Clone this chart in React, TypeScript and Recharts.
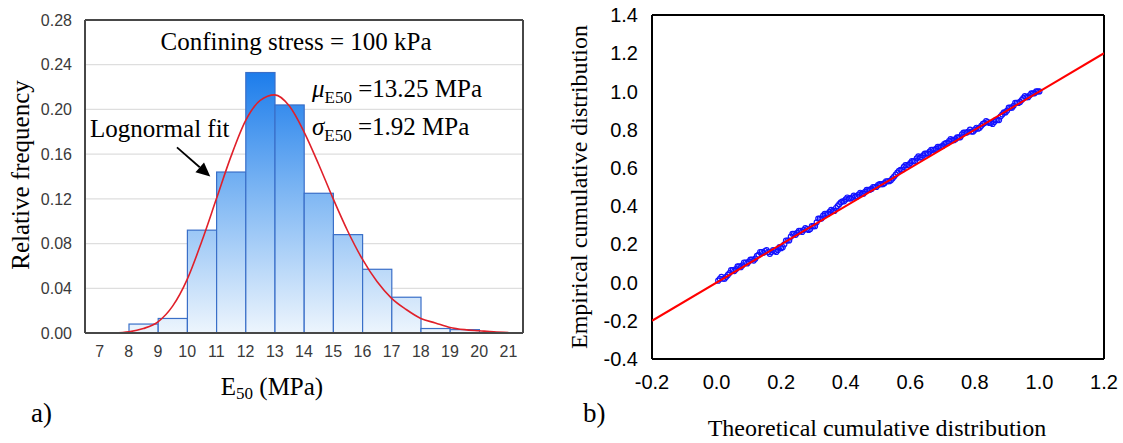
import React from 'react';
import { ComposedChart, Bar, Line, Scatter, XAxis, YAxis, CartesianGrid, ReferenceLine } from 'recharts';

// ---------- Panel a) histogram ----------
const binCenters = [8.5, 9.5, 10.5, 11.5, 12.5, 13.5, 14.5, 15.5, 16.5, 17.5, 18.5, 19.5];
const binFreq = [0.008, 0.013, 0.092, 0.144, 0.233, 0.204, 0.125, 0.088, 0.057, 0.032, 0.004, 0.003];
const fitX = [7.5, 8, 8.5, 9, 9.5, 10, 10.5, 11, 11.5, 12, 12.5, 13, 13.5, 14, 14.5, 15, 15.5, 16, 16.5, 17, 17.5, 18, 18.5, 19, 19.5, 20, 20.5, 21];
const fitY = [0, 0.001, 0.004, 0.01, 0.024, 0.048, 0.082, 0.12, 0.158, 0.19, 0.208, 0.213, 0.203, 0.18, 0.151, 0.12, 0.091, 0.066, 0.046, 0.031, 0.021, 0.013, 0.009, 0.005, 0.003, 0.002, 0.001, 0.0005];
const xTicksA = [7, 8, 9, 10, 11, 12, 13, 14, 15, 16, 17, 18, 19, 20, 21];
const yTicksA = [0, 0.04, 0.08, 0.12, 0.16, 0.2, 0.24, 0.28];
const arrowTail = { x: 9.65, y: 0.166 };
const arrowTip = { x: 10.79, y: 0.14 };

// ---------- Panel b) P-P plot ----------
const theoX = [
  0.01, 0.02, 0.03, 0.04, 0.05, 0.06, 0.07, 0.08, 0.09, 0.1,
  0.11, 0.12, 0.13, 0.14, 0.15, 0.16, 0.17, 0.18, 0.19, 0.2,
  0.21, 0.22, 0.23, 0.24, 0.25, 0.26, 0.27, 0.28, 0.29, 0.3,
  0.31, 0.32, 0.33, 0.34, 0.35, 0.36, 0.37, 0.38, 0.39, 0.4,
  0.41, 0.42, 0.43, 0.44, 0.45, 0.46, 0.47, 0.48, 0.49, 0.5,
  0.51, 0.52, 0.53, 0.54, 0.55, 0.56, 0.57, 0.58, 0.59, 0.6,
  0.61, 0.62, 0.63, 0.64, 0.65, 0.66, 0.67, 0.68, 0.69, 0.7,
  0.71, 0.72, 0.73, 0.74, 0.75, 0.76, 0.77, 0.78, 0.79, 0.8,
  0.81, 0.82, 0.83, 0.84, 0.85, 0.86, 0.87, 0.88, 0.89, 0.9,
  0.91, 0.92, 0.93, 0.94, 0.95, 0.96, 0.97, 0.98, 0.99, 1.0,
];
const empY = [
  0.02, 0.02, 0.03, 0.05, 0.065, 0.07, 0.085, 0.09, 0.105, 0.11,
  0.12, 0.125, 0.145, 0.16, 0.165, 0.16, 0.16, 0.165, 0.17, 0.18,
  0.2, 0.22, 0.24, 0.255, 0.26, 0.27, 0.275, 0.28, 0.28, 0.295,
  0.315, 0.335, 0.35, 0.36, 0.37, 0.375, 0.39, 0.41, 0.425, 0.435,
  0.44, 0.445, 0.45, 0.46, 0.465, 0.475, 0.485, 0.49, 0.5, 0.51,
  0.515, 0.52, 0.53, 0.535, 0.555, 0.575, 0.59, 0.605, 0.615, 0.625,
  0.635, 0.65, 0.655, 0.665, 0.675, 0.685, 0.695, 0.7, 0.71, 0.715,
  0.73, 0.74, 0.745, 0.75, 0.76, 0.775, 0.785, 0.79, 0.79, 0.8,
  0.805, 0.82, 0.835, 0.84, 0.835, 0.84, 0.85, 0.87, 0.89, 0.9,
  0.915, 0.925, 0.94, 0.945, 0.965, 0.97, 0.98, 0.99, 1.0, 1.0,
];
const theoX2 = [
  0.005, 0.015, 0.025, 0.035, 0.045, 0.055, 0.065, 0.075, 0.085, 0.095,
  0.105, 0.115, 0.125, 0.135, 0.145, 0.155, 0.165, 0.175, 0.185, 0.195,
  0.205, 0.215, 0.225, 0.235, 0.245, 0.255, 0.265, 0.275, 0.285, 0.295,
  0.305, 0.315, 0.325, 0.335, 0.345, 0.355, 0.365, 0.375, 0.385, 0.395,
  0.405, 0.415, 0.425, 0.435, 0.445, 0.455, 0.465, 0.475, 0.485, 0.495,
  0.505, 0.515, 0.525, 0.535, 0.545, 0.555, 0.565, 0.575, 0.585, 0.595,
  0.605, 0.615, 0.625, 0.635, 0.645, 0.655, 0.665, 0.675, 0.685, 0.695,
  0.705, 0.715, 0.725, 0.735, 0.745, 0.755, 0.765, 0.775, 0.785, 0.795,
  0.805, 0.815, 0.825, 0.835, 0.845, 0.855, 0.865, 0.875, 0.885, 0.895,
  0.905, 0.915, 0.925, 0.935, 0.945, 0.955, 0.965, 0.975, 0.985, 0.995,
];
const empY2 = [
  0.01, 0.03, 0.02, 0.04, 0.065, 0.06, 0.085, 0.08, 0.105, 0.1,
  0.12, 0.115, 0.14, 0.16, 0.155, 0.17, 0.15, 0.17, 0.16, 0.185,
  0.185, 0.22, 0.22, 0.255, 0.25, 0.27, 0.265, 0.285, 0.275, 0.295,
  0.295, 0.335, 0.335, 0.36, 0.36, 0.38, 0.375, 0.4, 0.42, 0.425,
  0.445, 0.44, 0.455, 0.45, 0.47, 0.465, 0.485, 0.485, 0.5, 0.5,
  0.515, 0.515, 0.53, 0.53, 0.545, 0.565, 0.585, 0.59, 0.615, 0.615,
  0.635, 0.635, 0.66, 0.655, 0.675, 0.675, 0.695, 0.695, 0.71, 0.71,
  0.725, 0.73, 0.75, 0.745, 0.76, 0.76, 0.785, 0.785, 0.8, 0.79,
  0.81, 0.81, 0.83, 0.845, 0.835, 0.83, 0.85, 0.85, 0.88, 0.89,
  0.915, 0.915, 0.94, 0.94, 0.955, 0.975, 0.97, 0.99, 0.99, 1.0,
];
const fitLineX = [-0.2, 1.2];
const fitLineY = [-0.2, 1.2];
const xTicksB = [-0.2, 0, 0.2, 0.4, 0.6, 0.8, 1.0, 1.2];
const yTicksB = [-0.4, -0.2, 0, 0.2, 0.4, 0.6, 0.8, 1.0, 1.2, 1.4];

// ---------- derived tables ----------
const histData = binCenters.map((x, i) => ({ x, f: binFreq[i] }));
const fitData = fitX.map((x, i) => ({ x, p: fitY[i] }));
const ppData = [
  ...theoX.map((x, i) => ({ x, y: empY[i] })),
  ...theoX2.map((x, i) => ({ x, y: empY2[i] })),
];
const lineData = fitLineX.map((x, i) => ({ x, y: fitLineY[i] }));

// ---------- layout ----------
const A = { left: 85, right: 523, top: 20, bottom: 333, w: 540, h: 443 };
const B = { ox: 560, left: 652, right: 1104, top: 15, bottom: 359, w: 563, h: 443 };
const BAR_PX = (A.right - A.left) / 15;
const SANS = '"Liberation Sans", Arial, sans-serif';
const SERIF = '"Liberation Serif", "Times New Roman", serif';
const borderA = '#474747';

const Arrow = (props: any) => {
  const { x1, y1, x2, y2 } = props;
  const ang = Math.atan2(y2 - y1, x2 - x1);
  const L = 14, W = 6.5;
  const bx = x2 - L * Math.cos(ang), by = y2 - L * Math.sin(ang);
  const p1x = bx + W * Math.sin(ang), p1y = by - W * Math.cos(ang);
  const p2x = bx - W * Math.sin(ang), p2y = by + W * Math.cos(ang);
  return (
    <g>
      <line x1={x1} y1={y1} x2={bx} y2={by} stroke="#000" strokeWidth={1.8} />
      <polygon points={`${x2},${y2} ${p1x},${p1y} ${p2x},${p2y}`} fill="#000" />
    </g>
  );
};

// histogram bin: keeps the library's centre and height, spans the full bin width
const HistRect = (props: any) => {
  const { x, y, width, height } = props;
  const cx = x + width / 2;
  return (
    <rect
      x={cx - BAR_PX / 2}
      y={y}
      width={BAR_PX}
      height={height}
      fill="url(#barGrad)"
      stroke="#3a6fc8"
      strokeWidth={1.2}
    />
  );
};

const Dot = (props: any) => {
  const { cx, cy } = props;
  return <circle cx={cx} cy={cy} r={2.5} fill="none" stroke="#1212ff" strokeWidth={1.2} />;
};

const NoDot = () => <g />;

export default function App() {
  return (
    <div style={{ position: 'absolute', left: 0, top: 0, width: 1123, height: 443, background: '#fff' }}>
      <div style={{ position: 'absolute', left: 0, top: 0 }}>
        <ComposedChart
          width={A.w}
          height={A.h}
          data={histData}
          margin={{ top: A.top, right: A.w - A.right, bottom: A.h - A.bottom - 30, left: A.left - 60 }}
          barCategoryGap={0}
          barGap={0}
        >
          <defs>
            <linearGradient id="barGrad" gradientUnits="userSpaceOnUse" x1="0" y1="73" x2="0" y2="333">
              <stop offset="0%" stopColor="#1d7deb" />
              <stop offset="50%" stopColor="#86bbf4" />
              <stop offset="100%" stopColor="#edf5fd" />
            </linearGradient>
          </defs>
          <CartesianGrid xAxisId="x" yAxisId="y" vertical={false} stroke="#dedede" strokeWidth={1.2} />
          <XAxis
            xAxisId="x"
            dataKey="x"
            type="number"
            domain={[6.5, 21.5]}
            allowDataOverflow
            ticks={xTicksA}
            interval={0}
            height={30}
            tickLine={false}
            tickSize={0}
            tickMargin={13}
            axisLine={{ stroke: borderA, strokeWidth: 2 }}
            tick={{ fill: '#3a3a3a', fontSize: 16, fontFamily: SANS }}
          />
          <XAxis xAxisId="xb" type="number" domain={[6.5, 21.5]} allowDataOverflow ticks={xTicksA} interval={0}
            orientation="bottom" mirror axisLine={false} tick={false} tickSize={5}
            tickLine={{ stroke: borderA, strokeWidth: 2 }} />
          <XAxis xAxisId="xt" type="number" domain={[6.5, 21.5]} allowDataOverflow ticks={xTicksA} interval={0}
            orientation="top" mirror tick={false} tickSize={5}
            axisLine={{ stroke: borderA, strokeWidth: 2 }}
            tickLine={{ stroke: borderA, strokeWidth: 2 }} />
          <YAxis
            yAxisId="y"
            type="number"
            domain={[0, 0.28]}
            allowDataOverflow
            ticks={yTicksA}
            interval={0}
            width={60}
            tickLine={false}
            tickSize={0}
            tickMargin={13}
            tickFormatter={(v: number) => v.toFixed(2)}
            axisLine={{ stroke: borderA, strokeWidth: 2 }}
            tick={{ fill: '#3a3a3a', fontSize: 16, fontFamily: SANS }}
          />
          <YAxis yAxisId="yl" type="number" domain={[0, 0.28]} allowDataOverflow ticks={yTicksA} interval={0}
            orientation="left" mirror axisLine={false} tick={false} tickSize={5}
            tickLine={{ stroke: borderA, strokeWidth: 2 }} />
          <YAxis yAxisId="yr" type="number" domain={[0, 0.28]} allowDataOverflow ticks={yTicksA} interval={0}
            orientation="right" mirror tick={false} tickSize={5}
            axisLine={{ stroke: borderA, strokeWidth: 2 }}
            tickLine={{ stroke: borderA, strokeWidth: 2 }} />
          <Bar
            xAxisId="x"
            yAxisId="y"
            dataKey="f"
            shape={HistRect}
            fill="url(#barGrad)"
            stroke="#3a6fc8"
            isAnimationActive={false}
          />
          <Line
            xAxisId="x"
            yAxisId="y"
            data={fitData}
            dataKey="p"
            type="monotone"
            stroke="#e0202a"
            strokeWidth={1.6}
            dot={false}
            isAnimationActive={false}
          />
          <ReferenceLine
            xAxisId="x"
            yAxisId="y"
            segment={[arrowTail, arrowTip]}
            shape={Arrow}
            ifOverflow="visible"
          />
        </ComposedChart>
      </div>

      <div style={{ position: 'absolute', left: B.ox, top: 0 }}>
        <ComposedChart
          width={B.w}
          height={B.h}
          margin={{ top: B.top, right: B.ox + B.w - B.right, bottom: B.h - B.bottom - 30, left: B.left - B.ox - 60 }}
        >
          <XAxis
            xAxisId="x"
            dataKey="x"
            type="number"
            domain={[-0.2, 1.2]}
            allowDataOverflow
            ticks={xTicksB}
            interval={0}
            height={30}
            tickLine={false}
            tickSize={0}
            tickMargin={16}
            tickFormatter={(v: number) => v.toFixed(1)}
            axisLine={{ stroke: '#000', strokeWidth: 2 }}
            tick={{ fill: '#000', fontSize: 20, fontFamily: SANS }}
          />
          <XAxis xAxisId="xb" type="number" domain={[-0.2, 1.2]} allowDataOverflow ticks={xTicksB} interval={0}
            orientation="bottom" mirror axisLine={false} tick={false} tickSize={5}
            tickLine={{ stroke: '#000', strokeWidth: 2 }} />
          <XAxis xAxisId="xt" type="number" domain={[-0.2, 1.2]} allowDataOverflow ticks={xTicksB} interval={0}
            orientation="top" mirror tick={false} tickSize={5}
            axisLine={{ stroke: '#000', strokeWidth: 2 }}
            tickLine={{ stroke: '#000', strokeWidth: 2 }} />
          <YAxis
            yAxisId="y"
            dataKey="y"
            type="number"
            domain={[-0.4, 1.4]}
            allowDataOverflow
            ticks={yTicksB}
            interval={0}
            width={60}
            tickLine={false}
            tickSize={0}
            tickMargin={14}
            tickFormatter={(v: number) => v.toFixed(1)}
            axisLine={{ stroke: '#000', strokeWidth: 2 }}
            tick={{ fill: '#000', fontSize: 20, fontFamily: SANS }}
          />
          <YAxis yAxisId="yl" type="number" domain={[-0.4, 1.4]} allowDataOverflow ticks={yTicksB} interval={0}
            orientation="left" mirror axisLine={false} tick={false} tickSize={5}
            tickLine={{ stroke: '#000', strokeWidth: 2 }} />
          <YAxis yAxisId="yr" type="number" domain={[-0.4, 1.4]} allowDataOverflow ticks={yTicksB} interval={0}
            orientation="right" mirror tick={false} tickSize={5}
            axisLine={{ stroke: '#000', strokeWidth: 2 }}
            tickLine={{ stroke: '#000', strokeWidth: 2 }} />
          <Scatter
            xAxisId="x"
            yAxisId="y"
            data={ppData}
            dataKey="y"
            shape={Dot}
            isAnimationActive={false}
          />
          <Scatter
            xAxisId="x"
            yAxisId="y"
            data={lineData}
            dataKey="y"
            shape={NoDot}
            line={{ stroke: '#ff0000', strokeWidth: 2 }}
            isAnimationActive={false}
          />
        </ComposedChart>
      </div>

      <svg
        width={1123}
        height={443}
        style={{ position: 'absolute', left: 0, top: 0, pointerEvents: 'none' }}
        fontFamily={SERIF}
      >
        <text x={296} y={50} fontSize={25} textAnchor="middle" fill="#000">Confining stress = 100 kPa</text>
        <text x={312} y={97} fontSize={25} fill="#000">
          <tspan fontStyle="italic">μ</tspan>
          <tspan fontSize={17} dy={6}>E50</tspan>
          <tspan dy={-6}> =13.25 MPa</tspan>
        </text>
        <text x={312} y={135} fontSize={25} fill="#000">
          <tspan fontStyle="italic">σ</tspan>
          <tspan fontSize={17} dy={6}>E50</tspan>
          <tspan dy={-6}> =1.92 MPa</tspan>
        </text>
        <text x={90} y={137} fontSize={25} fill="#000">Lognormal fit</text>
        <text x={272} y={395} fontSize={25} textAnchor="middle" fill="#000">
          <tspan>E</tspan>
          <tspan fontSize={17} dy={4}>50</tspan>
          <tspan dy={-4}> (MPa)</tspan>
        </text>
        <text transform="translate(29,175) rotate(-90)" fontSize={25} textAnchor="middle" fill="#000">Relative frequency</text>
        <text x={31} y={422} fontSize={27} fill="#000">a)</text>

        <text transform="translate(587,187) rotate(-90)" fontSize={24} textAnchor="middle" fill="#000">Empirical cumulative distribution</text>
        <text x={877} y={436} fontSize={24} textAnchor="middle" fill="#000">Theoretical cumulative distribution</text>
        <text x={583} y={422} fontSize={27} fill="#000">b)</text>
      </svg>
    </div>
  );
}
